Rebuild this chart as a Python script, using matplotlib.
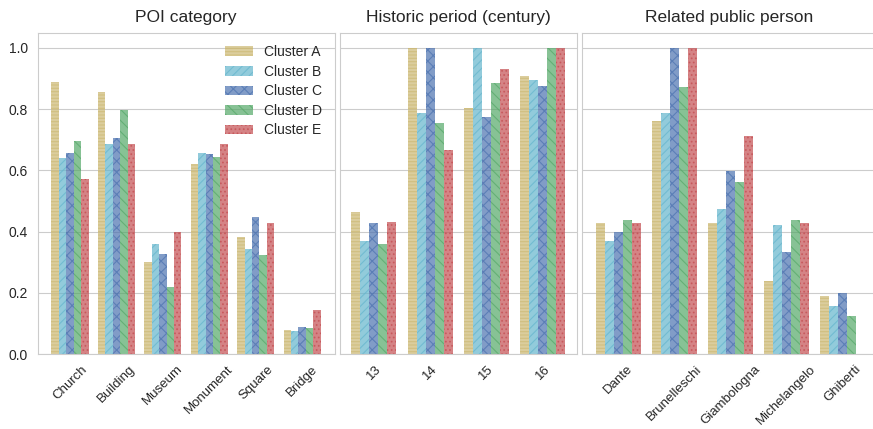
import matplotlib
matplotlib.use("Agg")
import matplotlib.pyplot as plt
import seaborn as sns
import numpy as np

clusters = ["Cluster A", "Cluster B", "Cluster C", "Cluster D", "Cluster E"]
colors = ["#CCB974", "#64B5CD", "#4C72B0", "#55A868", "#C44E52"]
hatches = ["-----", "////", "xxx", "\\\\\\", "...."]

poi_labels = ["Church", "Building", "Museum", "Monument", "Square", "Bridge"]
poi_values = [
    [0.888, 0.856, 0.302, 0.620, 0.381, 0.080],
    [0.642, 0.686, 0.359, 0.657, 0.344, 0.075],
    [0.656, 0.706, 0.328, 0.655, 0.448, 0.087],
    [0.695, 0.796, 0.220, 0.644, 0.322, 0.085],
    [0.572, 0.686, 0.400, 0.685, 0.428, 0.144],
]

period_labels = ["13", "14", "15", "16"]
period_values = [
    [0.463, 1.000, 0.804, 0.909],
    [0.369, 0.789, 1.000, 0.894],
    [0.428, 1.000, 0.775, 0.877],
    [0.358, 0.754, 0.887, 1.000],
    [0.433, 0.667, 0.932, 1.000],
]

person_labels = ["Dante", "Brunelleschi", "Giambologna", "Michelangelo", "Ghiberti"]
person_values = [
    [0.428, 0.761, 0.428, 0.239, 0.190],
    [0.369, 0.789, 0.474, 0.422, 0.158],
    [0.400, 1.000, 0.599, 0.333, 0.200],
    [0.437, 0.874, 0.562, 0.437, 0.125],
    [0.428, 1.000, 0.713, 0.428, 0.000],
]

sns.set_style("whitegrid")
plt.rcParams["font.family"] = ["Liberation Sans", "DejaVu Sans"]
plt.rcParams["hatch.linewidth"] = 0.8

fig = plt.figure(figsize=(8.73, 4.29), dpi=100)
bottom, height = 0.1748, 0.749
ax1 = fig.add_axes([0.0430, bottom, 0.3404, height])
ax2 = fig.add_axes([0.3895, bottom, 0.2711, height], sharey=ax1)
ax3 = fig.add_axes([0.6670, bottom, 0.3364, height], sharey=ax1)

panels = [
    (ax1, "POI category", poi_labels, poi_values, (-0.7, 5.7)),
    (ax2, "Historic period (century)", period_labels, period_values, (-0.6, 3.6)),
    (ax3, "Related public person", person_labels, person_values, (-0.65, 4.6)),
]

w = 0.16
for ax, title, labels, values, xlim in panels:
    x = np.arange(len(labels))
    for j in range(len(clusters)):
        ax.bar(x + (j - 2) * w, values[j], width=w, color=colors[j],
               edgecolor=colors[j], linewidth=0, hatch=hatches[j],
               alpha=0.7, label=clusters[j])
    ax.set_xticks(x)
    ax.set_xticklabels(labels, rotation=45, fontsize=9.5)
    ax.tick_params(axis="x", pad=3)
    ax.set_xlim(*xlim)
    ax.set_title(title, fontsize=12.5, pad=8)
    ax.xaxis.grid(False)
    ax.tick_params(axis="y", labelsize=10)

ax1.set_ylim(0, 1.05)
ax1.set_yticks([0.0, 0.2, 0.4, 0.6, 0.8, 1.0])
ax2.tick_params(axis="y", labelleft=False)
ax3.tick_params(axis="y", labelleft=False)

ax1.legend(loc="upper right", fontsize=10, frameon=False,
           handlelength=2.0, labelspacing=0.4, bbox_to_anchor=(1.0, 1.0))

fig.savefig("out.png", dpi=100)
